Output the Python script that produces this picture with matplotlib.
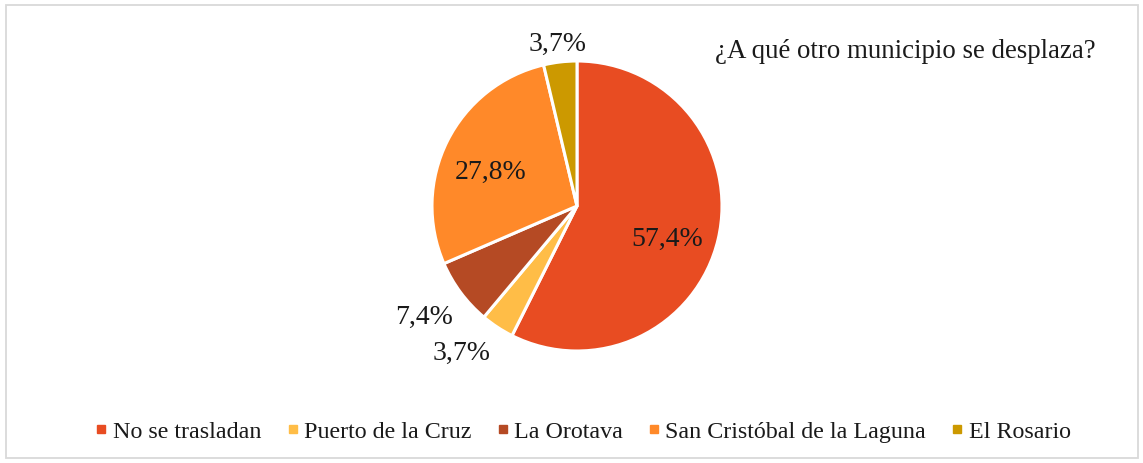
"""
Pie chart: ¿A qué otro municipio se desplaza?
"""
import numpy as np
import matplotlib
matplotlib.use("Agg")
import matplotlib.pyplot as plt
from matplotlib.lines import Line2D
from matplotlib.patches import Rectangle

plt.rcParams['font.family'] = ['Liberation Serif', 'DejaVu Serif']

# Data
categories = ["No se trasladan", "Puerto de la Cruz", "La Orotava",
              "San Cristóbal de la Laguna", "El Rosario"]
values = [57.4, 3.7, 7.4, 27.8, 3.7]
value_labels = ["57,4%", "3,7%", "7,4%", "27,8%", "3,7%"]
colors = ["#E84C22", "#FFBD47", "#B54A24", "#FF8929", "#CC9900"]
title = "¿A qué otro municipio se desplaza?"

# label placement (radial distance, angle offset in degrees)
label_dist = [0.66, 1.29, 1.30, 0.64, 1.13]
label_dang = [-6.7, -5.0, -1.0, 4.5, 0.3]

W, H = 1143, 464
fig = plt.figure(figsize=(W / 100, H / 100), dpi=100)

# pie axes: center (577, 207) px, radius 145 px
cx, cy, r = 577, 207, 145
ax = fig.add_axes([(cx - r) / W, (H - cy - r) / H, 2 * r / W, 2 * r / H])
wedges, _ = ax.pie(values, colors=colors, startangle=90, counterclock=False,
                   radius=1.0,
                   wedgeprops=dict(edgecolor="white", linewidth=2.2))
ax.set_xlim(-1, 1)
ax.set_ylim(-1, 1)
ax.set_aspect("equal")
ax.axis("off")

for w, lab, d, da in zip(wedges, value_labels, label_dist, label_dang):
    ang = np.deg2rad((w.theta1 + w.theta2) / 2 + da)
    ax.text(d * np.cos(ang), d * np.sin(ang), lab, ha="center", va="center",
            fontsize=20, color="#1a1a1a")

fig.text(905 / W, 1 - 52 / H, title, ha="center", va="center",
         fontsize=19.4, color="#1a1a1a")

handles = [Line2D([0], [0], marker="s", linestyle="none", markersize=6,
                  markerfacecolor=c, markeredgecolor=c) for c in colors]
fig.legend(handles, categories, loc="center", ncol=5, frameon=False,
           bbox_to_anchor=(583 / W, 1 - 432 / H), fontsize=17.3,
           handlelength=0.5, handletextpad=0.22, columnspacing=1.05,
           labelcolor="#1a1a1a")

# outer border
fig.patches.append(Rectangle((5.5 / W, 5.5 / H), (W - 11) / W, (H - 11) / H,
                             transform=fig.transFigure, fill=False,
                             edgecolor="#d9d9d9", linewidth=1.3))

fig.savefig("out.png", dpi=100)
